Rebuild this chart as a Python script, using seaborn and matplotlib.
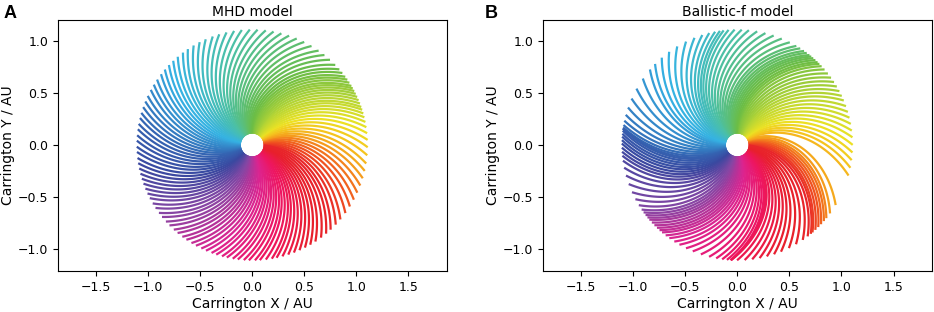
import numpy as np
import pandas as pd
import matplotlib
matplotlib.use('Agg')
import matplotlib.pyplot as plt
import seaborn as sns
from matplotlib.colors import LinearSegmentedColormap

# footpoint longitudes at the inner boundary (deg), one spiral per value
lon0 = np.arange(0, 360, 3)

# solar wind speed per footpoint (km/s)
mhd_speed = [484, 490, 495, 506, 517, 528, 539, 550, 561, 572,
             583, 600, 616, 627, 633, 633, 627, 616, 600, 583,
             561, 545, 530, 515, 500, 485, 470, 455, 445, 435,
             425, 420, 415, 415, 420, 425, 430, 440, 450, 460,
             470, 480, 490, 500, 512, 522, 534, 545, 556, 566,
             572, 583, 588, 594, 600, 600, 605, 605, 605, 605,
             605, 610, 610, 610, 616, 616, 616, 616, 610, 610,
             605, 605, 600, 600, 594, 594, 588, 583, 578, 572,
             566, 561, 556, 550, 550, 545, 545, 539, 539, 534,
             534, 528, 528, 522, 522, 517, 517, 512, 512, 506,
             506, 500, 500, 495, 495, 490, 490, 484, 484, 484,
             478, 478, 478, 478, 478, 478, 478, 478, 482, 484]

ballistic_speed = [436, 428, 413, 405, 398, 391, 385, 378, 378, 391,
                   504, 515, 525, 535, 545, 555, 560, 565, 567, 567,
                   567, 567, 560, 555, 550, 545, 540, 535, 530, 520,
                   504, 485, 470, 455, 440, 425, 415, 405, 400, 395,
                   400, 410, 420, 430, 440, 450, 455, 460, 460, 455,
                   445, 440, 440, 445, 455, 470, 490, 510, 530, 550,
                   560, 600, 650, 700, 740, 760, 760, 740, 700, 650,
                   600, 570, 550, 530, 515, 500, 490, 480, 470, 465,
                   470, 480, 495, 510, 520, 525, 520, 505, 490, 475,
                   460, 450, 440, 430, 420, 410, 405, 400, 400, 400,
                   405, 410, 420, 430, 435, 435, 430, 420, 400, 380,
                   380, 385, 390, 395, 400, 405, 410, 420, 428, 436]

titles = ['MHD model', 'Ballistic-f model']
letters = ['A', 'B']

R_IN, R_OUT = 0.12, 1.1          # AU
OMEGA = 2.7e-6                   # rad/s, Carrington rotation
AU_KM = 1.496e8


def spirals(speed):
    rows = []
    r = np.linspace(R_IN, R_OUT, 120)
    # highest longitude first so lower ones sit on top
    for i in range(len(lon0) - 1, -1, -1):
        lon, v = lon0[i], speed[i]
        phi = np.radians(lon) - OMEGA * (r - R_IN) * AU_KM / v
        rows.append(pd.DataFrame({'x': r * np.cos(phi), 'y': r * np.sin(phi),
                                  'line': i, 'lon': lon}))
    return pd.concat(rows, ignore_index=True)


# cyclic rainbow seen in the figure, positions are footpoint longitude / 360
cmap = LinearSegmentedColormap.from_list('cyc', [
    (0.0, '#e8262a'), (12/360, '#f0551f'), (22/360, '#f5921d'),
    (32/360, '#f5c21e'), (42/360, '#ece324'), (65/360, '#b3d435'),
    (95/360, '#6cbd45'), (140/360, '#4bc0aa'), (172/360, '#35b2e4'),
    (203/360, '#3467b4'), (228/360, '#3a48a0'), (258/360, '#8646a4'),
    (292/360, '#dc2490'), (322/360, '#ee1660'), (348/360, '#e8202c'),
    (1.0, '#e8262a')])

fig = plt.figure(figsize=(9.34, 3.12), dpi=100)
rects = [[0.0621, 0.1314, 0.4165, 0.8046], [0.5814, 0.1314, 0.4165, 0.8046]]

for k, speed in enumerate([mhd_speed, ballistic_speed]):
    ax = fig.add_axes(rects[k])
    df = spirals(speed)
    sns.lineplot(data=df, x='x', y='y', hue='lon', units='line', estimator=None,
                 sort=False, palette=cmap, hue_norm=(0, 360), legend=False,
                 linewidth=1.6, ax=ax)
    ax.set_xlim(-1.865, 1.87)
    ax.set_ylim(-1.21, 1.2)
    ax.set_xticks([-1.5, -1.0, -0.5, 0.0, 0.5, 1.0, 1.5])
    ax.set_yticks([-1.0, -0.5, 0.0, 0.5, 1.0])
    ax.tick_params(labelsize=9)
    ax.set_xlabel('Carrington X / AU', fontsize=10, labelpad=2)
    ax.set_ylabel('Carrington Y / AU', fontsize=10, labelpad=2)
    ax.set_title(titles[k], fontsize=10, pad=3)
    fig.text(rects[k][0] - (0.058 if k == 0 else 0.062), 0.942, letters[k],
             fontsize=13, fontweight='bold', family='Liberation Sans')

fig.savefig('out.png', dpi=100)
